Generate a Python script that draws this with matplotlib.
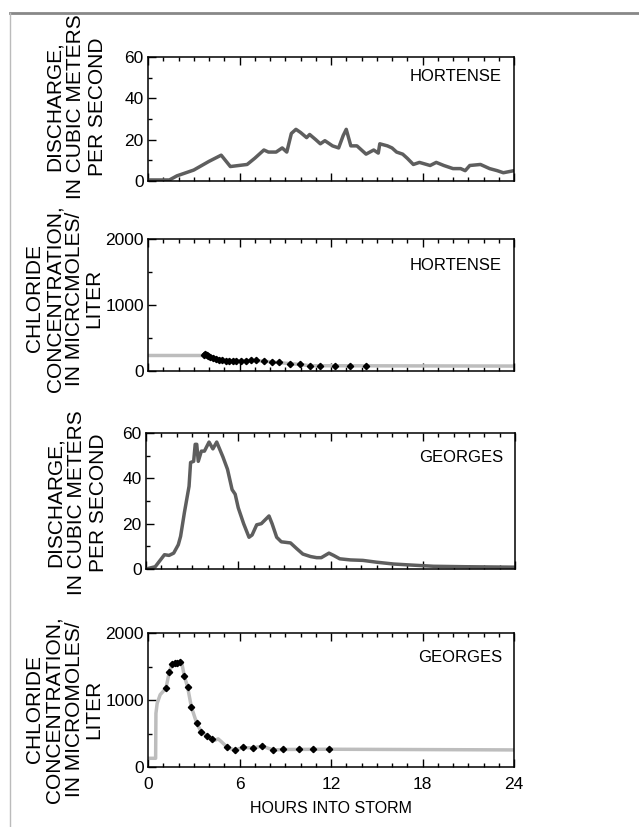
import matplotlib.pyplot as plt
from matplotlib.ticker import MultipleLocator
from matplotlib.lines import Line2D

plt.rcParams['font.family'] = ['Liberation Sans', 'DejaVu Sans']

# Hortense discharge (hours, m3/s)
hort_q_t = [0, 1.4, 1.9, 3.0, 4.0, 4.8, 5.4, 6.5, 7.0, 7.6, 7.9, 8.4, 8.8, 9.1, 9.4, 9.7,
            10.0, 10.4, 10.6, 11.0, 11.3, 11.6, 12.1, 12.5, 12.8, 13.0, 13.3, 13.7, 14.3,
            14.8, 15.1, 15.2, 15.7, 16.0, 16.3, 16.7, 17.0, 17.4, 17.8, 18.5, 18.9, 19.4,
            20.0, 20.5, 20.8, 21.1, 21.8, 22.4, 22.9, 23.3, 24.0]
hort_q = [0.5, 0.5, 2.5, 5.3, 9.5, 12.5, 7.0, 8.0, 11.0, 15.0, 14.0, 14.0, 16.0, 14.0, 23.0, 25.0,
          23.5, 21.0, 22.5, 20.0, 18.0, 19.5, 17.0, 16.0, 22.0, 25.0, 17.0, 17.0, 13.0,
          15.0, 13.5, 18.0, 17.0, 16.0, 14.0, 13.0, 11.0, 8.0, 9.0, 7.5, 9.0, 7.5,
          6.0, 6.0, 5.0, 7.5, 8.0, 6.0, 5.0, 4.0, 5.0]

# Hortense chloride (micromoles/L)
hort_cl_line_t = [0, 3.6, 3.7, 4.3, 5.0, 6.0, 7.0, 8.0, 9.0, 10.0, 10.6, 24.0]
hort_cl_line = [235, 235, 245, 205, 160, 155, 160, 140, 118, 98, 80, 75]
hort_cl_t = [3.65, 3.75, 3.85, 3.95, 4.08, 4.25, 4.45, 4.65, 4.88, 5.1, 5.33, 5.56, 5.8,
             6.08, 6.4, 6.75, 7.1, 7.6, 8.1, 8.6, 9.3, 9.95, 10.6, 11.25, 12.27, 13.26, 14.28]
hort_cl = [245, 250, 240, 225, 210, 195, 180, 170, 160, 155, 150, 150, 152,
           155, 158, 160, 160, 152, 138, 130, 112, 100, 82, 80, 82, 78, 80]

# Georges discharge
geo_q_t = [0, 0.6, 1.2, 1.5, 1.8, 2.1, 2.25, 2.5, 2.8, 2.9, 3.1, 3.2, 3.3, 3.4, 3.6, 3.8,
           4.1, 4.35, 4.6, 5.0, 5.3, 5.6, 5.8, 6.0, 6.35, 6.7, 6.9, 7.2, 7.5, 8.0, 8.2,
           8.5, 8.8, 9.4, 9.8, 10.2, 10.7, 11.1, 11.4, 11.9, 12.2, 12.6, 13.3, 14.1, 15.0,
           16.1, 17.1, 18.7, 20.8, 24.0]
geo_q = [0, 1, 6.3, 6, 7, 10.7, 14.4, 25, 36.5, 47, 47.5, 55, 55, 47.5, 52, 52,
         56, 53, 56, 49.5, 44, 35, 33, 27, 20, 14, 15, 19.5, 20, 23.4, 20,
         14, 12, 11.5, 9, 6.6, 5.5, 5, 5, 7, 6, 4.5, 4, 3.8, 3,
         2.2, 1.8, 1.2, 1.0, 0.8]

# Georges chloride
geo_cl_line_t = [0, 0.5, 0.52, 0.6, 0.8, 1.0, 1.18, 1.4, 1.57, 2.0, 2.2, 2.38, 2.6, 2.84,
                 3.2, 3.5, 3.86, 4.2, 4.4, 4.6, 4.8, 5.17, 5.68, 6.2, 6.86, 7.5, 8.2, 9.0,
                 12.0, 24.0]
geo_cl_line = [130, 130, 800, 950, 1080, 1130, 1180, 1420, 1530, 1560, 1570, 1360, 1190, 900,
               650, 520, 470, 420, 400, 420, 380, 300, 250, 290, 285, 310, 255, 262,
               265, 255]
geo_cl_t = [1.18, 1.4, 1.57, 1.75, 1.92, 2.1, 2.38, 2.6, 2.84, 3.2, 3.5, 3.86, 4.2,
            5.17, 5.68, 6.2, 6.86, 7.5, 8.2, 8.85, 9.87, 10.85, 11.88]
geo_cl = [1180, 1420, 1530, 1545, 1550, 1570, 1360, 1190, 900, 650, 520, 470, 420,
          300, 250, 300, 285, 315, 250, 265, 265, 265, 265]

hours_ticks = [0, 6, 12, 18, 24]

fig = plt.figure(figsize=(6.39, 8.27), dpi=100)

# page border lines
fig.add_artist(Line2D([10 / 639, 1], [1 - 13 / 827, 1 - 13 / 827], color='#888888', lw=2))
fig.add_artist(Line2D([10 / 639, 10 / 639], [0, 1 - 13 / 827], color='#bbbbbb', lw=1))

W, H = 639, 827
boxes = [(148, 57, 514, 181), (148, 239, 514, 371), (146, 433, 515, 569), (148, 633, 514, 767)]
axes = [fig.add_axes([l / W, 1 - b / H, (r - l) / W, (b - t) / H]) for l, t, r, b in boxes]

dark = '#5e5e5e'
light = '#bdbdbd'

axes[0].plot(hort_q_t, hort_q, color=dark, lw=2.5)
axes[1].plot(hort_cl_line_t, hort_cl_line, color=light, lw=2.5)
axes[1].plot(hort_cl_t, hort_cl, 'D', color='black', ms=3.2)
axes[2].plot(geo_q_t, geo_q, color=dark, lw=2.5)
axes[3].plot(geo_cl_line_t, geo_cl_line, color=light, lw=2.5)
axes[3].plot(geo_cl_t, geo_cl, 'D', color='black', ms=3.2)

names = ['HORTENSE', 'HORTENSE', 'GEORGES', 'GEORGES']
name_y = [0.84, 0.80, 0.82, 0.82]
q_label = 'DISCHARGE,\nIN CUBIC METERS\nPER SECOND'
ylabels = [q_label, 'CHLORIDE\nCONCENTRATION,\nIN MICRCMOLES/\nLITER',
           q_label, 'CHLORIDE\nCONCENTRATION,\nIN MICROMOLES/\nLITER']
label_pos = [(-0.197, 0.60), (-0.228, 0.55), (-0.187, 0.49), (-0.229, 0.43)]
label_spacing = [1.16, 1.05, 1.16, 1.05]

for i, ax in enumerate(axes):
    ax.set_xlim(0, 24)
    ax.xaxis.set_major_locator(MultipleLocator(6))
    ax.xaxis.set_minor_locator(MultipleLocator(1))
    if i in (0, 2):
        ax.set_ylim(0, 60)
        ax.yaxis.set_major_locator(MultipleLocator(20))
        ax.yaxis.set_minor_locator(MultipleLocator(10))
    else:
        ax.set_ylim(0, 2000)
        ax.yaxis.set_major_locator(MultipleLocator(1000))
        ax.yaxis.set_minor_locator(MultipleLocator(500))
    ax.tick_params(which='both', direction='in', top=True, right=False,
                   labelsize=12.5, colors='black', width=1)
    ax.tick_params(which='major', length=6, pad=3)
    ax.tick_params(which='minor', length=3)
    for s in ax.spines.values():
        s.set_linewidth(1.1)
    if i < 3:
        ax.set_xticklabels([])
    ax.text(0.967, name_y[i], names[i], transform=ax.transAxes, ha='right', va='center',
            fontsize=12)
    ax.text(label_pos[i][0], label_pos[i][1], ylabels[i], transform=ax.transAxes,
            rotation=90, ha='center', va='center', multialignment='center',
            fontsize=15, linespacing=label_spacing[i])

axes[3].set_xticks(hours_ticks)
axes[3].tick_params(axis='x', which='major', pad=7)
axes[3].set_xlabel('HOURS INTO STORM', fontsize=11.5, labelpad=7)

fig.savefig('out.png', dpi=100)
